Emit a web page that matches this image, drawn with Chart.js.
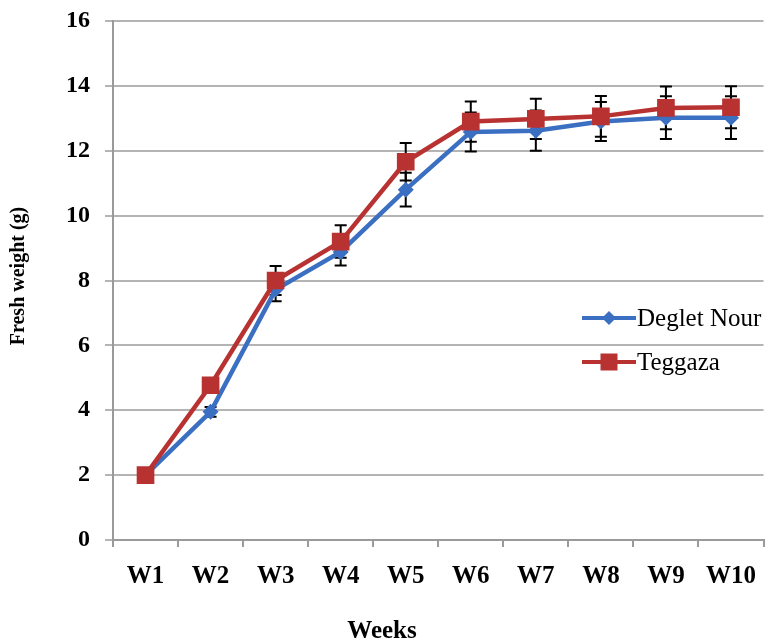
<!DOCTYPE html>
<html>
<head>
<meta charset="utf-8">
<script src="https://cdn.jsdelivr.net/npm/chart.js@4/dist/chart.umd.min.js"></script>
<style>
  html, body { margin: 0; padding: 0; background: #fff; overflow: hidden; }
  #wrap { width: 776px; height: 638px; }
</style>
</head>
<body>
<div id="wrap"><canvas id="c" width="776" height="638"></canvas></div>
<script>
const weeks = ['W1','W2','W3','W4','W5','W6','W7','W8','W9','W10'];
const degletNour = [2.0, 3.95, 7.72, 8.88, 10.8, 12.58, 12.62, 12.9, 13.02, 13.02];
const degletNourSD = [0.05, 0.15, 0.36, 0.42, 0.52, 0.6, 0.62, 0.6, 0.66, 0.66];
const teggaza = [2.0, 4.77, 8.0, 9.2, 11.66, 12.9, 12.98, 13.06, 13.32, 13.34];
const teggazaSD = [0.05, 0.1, 0.45, 0.5, 0.58, 0.62, 0.62, 0.63, 0.66, 0.65];
const yTicks = [0, 2, 4, 6, 8, 10, 12, 14, 16];

const BLUE = '#3b6fc2';
const RED = '#b83232';
const SERIF = "'Liberation Serif', 'Times New Roman', serif";

const errorBars = {
  id: 'errorBars',
  beforeDatasetsDraw(chart) {
    const ctx = chart.ctx;
    const ys = chart.scales.y;
    ctx.save();
    ctx.strokeStyle = '#000';
    ctx.lineWidth = 2;
    chart.data.datasets.forEach((ds, i) => {
      const meta = chart.getDatasetMeta(i);
      meta.data.forEach((pt, j) => {
        const v = ds.data[j], e = ds.sd[j];
        const x = pt.x;
        const yTop = ys.getPixelForValue(v + e);
        const yBot = ys.getPixelForValue(v - e);
        ctx.beginPath();
        ctx.moveTo(x, yTop); ctx.lineTo(x, yBot);
        ctx.moveTo(x - 6, yTop); ctx.lineTo(x + 6, yTop);
        ctx.moveTo(x - 6, yBot); ctx.lineTo(x + 6, yBot);
        ctx.stroke();
      });
    });
    ctx.restore();
  }
};

const extras = {
  id: 'extras',
  afterDraw(chart) {
    const ctx = chart.ctx;
    ctx.save();
    const items = [
      { ds: chart.data.datasets[0], y: 318 },
      { ds: chart.data.datasets[1], y: 362 }
    ];
    items.forEach(it => {
      ctx.strokeStyle = it.ds.borderColor;
      ctx.lineWidth = 4;
      ctx.beginPath();
      ctx.moveTo(582, it.y); ctx.lineTo(636, it.y);
      ctx.stroke();
      ctx.fillStyle = it.ds.backgroundColor;
      ctx.beginPath();
      if (it.ds.pointStyle === 'rect') {
        ctx.rect(609 - 8.5, it.y - 8.5, 17, 17);
      } else {
        ctx.moveTo(609, it.y - 7); ctx.lineTo(616, it.y); ctx.lineTo(609, it.y + 7); ctx.lineTo(602, it.y);
        ctx.closePath();
      }
      ctx.fill();
      ctx.fillStyle = '#000';
      ctx.font = '25px ' + SERIF;
      ctx.textAlign = 'left';
      ctx.textBaseline = 'middle';
      ctx.fillText(it.ds.label, 637, it.y + 1);
    });
    ctx.fillStyle = '#000';
    ctx.font = 'bold 25px ' + SERIF;
    ctx.textAlign = 'center';
    ctx.textBaseline = 'middle';
    ctx.fillText('Weeks', 382, 632);
    ctx.translate(19, 276);
    ctx.rotate(-Math.PI / 2);
    ctx.font = 'bold 20px ' + SERIF;
    ctx.fillText('Fresh weight (g)', 0, 0);
    ctx.restore();
  }
};

new Chart(document.getElementById('c'), {
  type: 'line',
  data: {
    labels: weeks,
    datasets: [
      {
        label: 'Deglet Nour',
        data: degletNour,
        sd: degletNourSD,
        borderColor: BLUE,
        backgroundColor: BLUE,
        borderWidth: 4.5,
        pointStyle: 'rectRot',
        pointRadius: 8,
        pointBorderWidth: 0,
        pointBackgroundColor: BLUE,
        tension: 0,
        order: 1
      },
      {
        label: 'Teggaza',
        data: teggaza,
        sd: teggazaSD,
        borderColor: RED,
        backgroundColor: RED,
        borderWidth: 4.5,
        pointStyle: 'rect',
        pointRadius: 12.5,
        pointBorderWidth: 0,
        pointBackgroundColor: RED,
        tension: 0,
        order: 0
      }
    ]
  },
  options: {
    responsive: false,
    animation: false,
    events: [],
    layout: { padding: { top: 21, left: 0, right: 0, bottom: 0 } },
    plugins: { legend: { display: false }, tooltip: { enabled: false } },
    scales: {
      x: {
        offset: true,
        grid: { display: true, drawOnChartArea: false, drawTicks: true, tickLength: 7, offset: true, color: '#9a9a9a', lineWidth: 2 },
        border: { display: true, color: '#9a9a9a', width: 2 },
        ticks: { color: '#000', font: { family: SERIF, size: 25, weight: 'bold' }, padding: 15, maxRotation: 0, autoSkip: false },
        afterFit(s) { s.height = 98; s.paddingLeft = 0; s.paddingRight = 0; }
      },
      y: {
        min: 0,
        max: 16,
        afterBuildTicks(s) { s.ticks = yTicks.map(v => ({ value: v })); },
        grid: { color: '#b4b4b4', lineWidth: 2, drawTicks: true, tickLength: 8 },
        border: { display: true, color: '#9a9a9a', width: 2 },
        ticks: { color: '#000', font: { family: SERIF, size: 24, weight: 'bold' }, padding: 15 },
        afterFit(s) { s.width = 113; s.paddingTop = 0; s.paddingBottom = 0; }
      }
    }
  },
  plugins: [errorBars, extras]
});
</script>
</body>
</html>
